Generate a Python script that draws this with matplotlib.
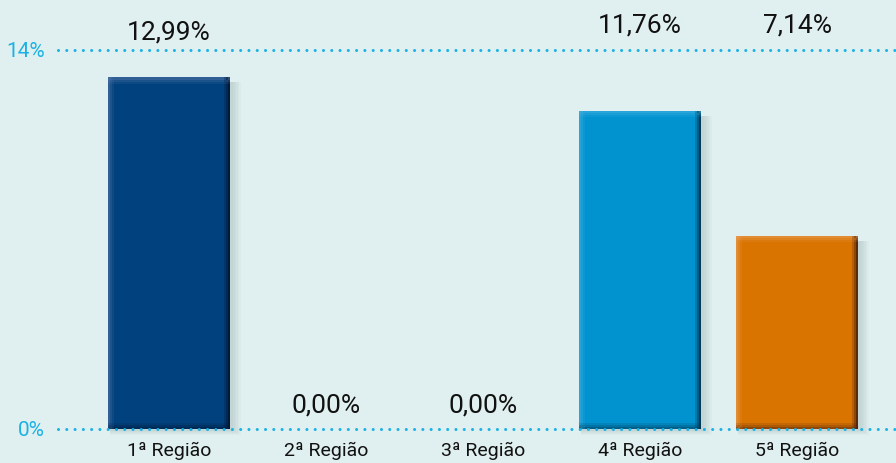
import matplotlib.pyplot as plt
import matplotlib.font_manager as fm
from matplotlib.patches import Rectangle

# dados por região (%)
regioes = ['1ª Região', '2ª Região', '3ª Região', '4ª Região', '5ª Região']
valores = [12.99, 0.00, 0.00, 11.76, 7.14]
rotulos = ['12,99%', '0,00%', '0,00%', '11,76%', '7,14%']
rotulo_y = [14.67, 0.92, 0.92, 14.96, 14.96]

cores = ['#01427e', '#01427e', '#01427e', '#0193d0', '#d97401']
cores_borda = ['#001634', '#001634', '#001634', '#00324d', '#4f220b']
cores_luz = ['#5878a8', '#5878a8', '#5878a8', '#49b4e2', '#eba15e']

ticks_y = [0, 14]
ticks_txt = ['0%', '14%']

BG = '#e0efef'
CIANO = '#1ab2e4'

fam = [f for f in ['Liberation Sans Narrow', 'Roboto', 'DejaVu Sans']
       if f in {x.name for x in fm.fontManager.ttflist}]
plt.rcParams['font.family'] = fam

fig = plt.figure(figsize=(8.96, 4.64), dpi=100)
fig.patch.set_facecolor(BG)
ax = fig.add_axes([0, 0, 1, 1])
ax.set_facecolor(BG)
ax.set_xlim(-1.076, 4.63)
ax.set_ylim(-1.256, 15.885)
ax.axis('off')

x = list(range(len(regioes)))
larg = 0.777

# sombra suave atrás das barras
for xi, v in zip(x, valores):
    if v <= 0:
        continue
    for k in range(6):
        d = 0.01 * (k + 1)
        ax.add_patch(Rectangle((xi - larg / 2 + 0.01, -0.03 - d * 3),
                               larg + d, v - 0.15 + d * 3,
                               color='#5a7878', alpha=0.035, lw=0, zorder=1))

ax.bar(x, valores, width=larg, color=cores, zorder=2)

# efeito de relevo: borda clara à esquerda/topo e escura à direita/base
for xi, v, cl, ce in zip(x, valores, cores_luz, cores_borda):
    if v <= 0:
        continue
    l = xi - larg / 2
    r = xi + larg / 2
    for k, a in enumerate([0.9, 0.55, 0.25]):
        w = 0.012
        ax.add_patch(Rectangle((r - w * (k + 1), 0), w, v, color=ce,
                               alpha=a, lw=0, zorder=3))
        ax.add_patch(Rectangle((l + w * k, 0), w, v, color=cl,
                               alpha=a * 0.6, lw=0, zorder=3))
        h = 0.08
        ax.add_patch(Rectangle((l, v - h * (k + 1)), larg, h, color=cl,
                               alpha=a * 0.6, lw=0, zorder=3))
        ax.add_patch(Rectangle((l, h * k), larg, h, color=ce,
                               alpha=a * 0.6, lw=0, zorder=3))

# linhas pontilhadas de referência
for t, txt in zip(ticks_y, ticks_txt):
    ax.plot([-0.707, 4.63], [t, t], linestyle=(0, (0.01, 2.7)), color=CIANO,
            lw=2.2, zorder=4, dash_capstyle='round')
    ax.text(-0.79, t, txt, ha='right', va='center', color=CIANO, fontsize=15)

for xi, ry, txt in zip(x, rotulo_y, rotulos):
    ax.text(xi, ry, txt, ha='center', va='center', color='#111111', fontsize=19)

for xi, nome in zip(x, regioes):
    ax.text(xi, -0.78, nome, ha='center', va='center', color='#111111', fontsize=14)

fig.savefig('out.png', dpi=100, facecolor=BG)
